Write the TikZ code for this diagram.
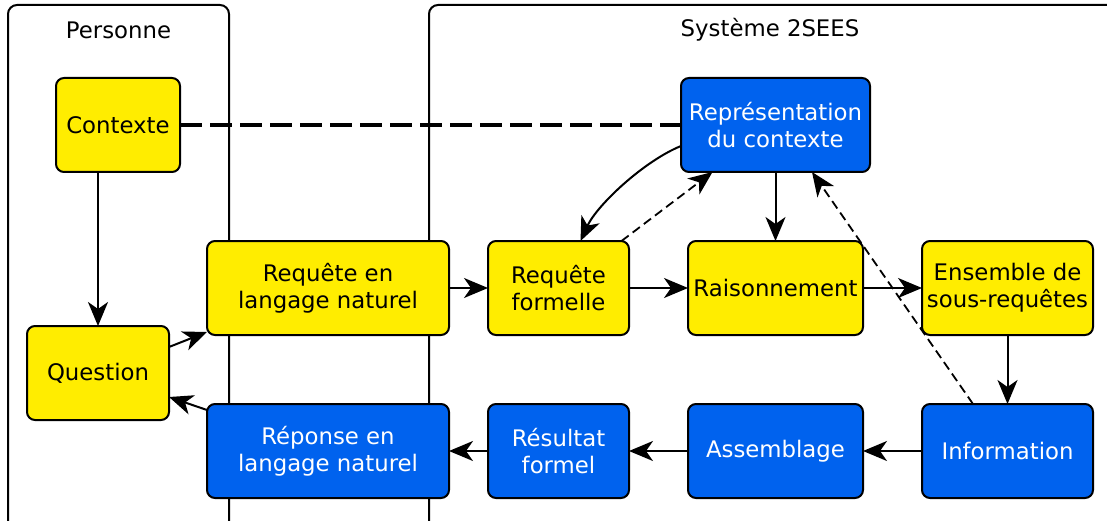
\documentclass[tikz,border=0pt]{standalone}
\usepackage{fontspec}
\setmainfont{DejaVu Sans}
\usetikzlibrary{arrows.meta}
\definecolor{boxyellow}{RGB}{255,237,0}
\definecolor{boxblue}{RGB}{0,98,238}
\tikzset{
  basebox/.style={draw=black, line width=2pt, rounded corners=8pt, inner sep=0pt, outer sep=0pt,
    align=center, font=\fontsize{22.8}{27}\selectfont, minimum height=94pt},
  ybox/.style={basebox, fill=boxyellow, text=black},
  bbox/.style={basebox, fill=boxblue, text=white},
  container/.style={draw=black, line width=2pt, rounded corners=9pt},
  arr/.style={line width=2pt, -{Stealth[length=24pt,width=20pt,inset=7pt]}},
  darr/.style={line width=1.8pt, dash pattern=on 9pt off 5pt, -{Stealth[length=24pt,width=20pt,inset=7pt]}},
  thickdash/.style={line width=4pt, dash pattern=on 22pt off 8pt},
  title/.style={font=\fontsize{22.8}{27}\selectfont, text=black}
}
\begin{document}
\begin{tikzpicture}[x=1pt,y=-1pt]
\useasboundingbox (0,0) rectangle (1107,521);
\clip (0,0) rectangle (1107,521);
\fill[white] (0,0) rectangle (1107,521);
% containers
\draw[container] (8,5) rectangle (229,530);
\draw[container] (429,5) rectangle (1120,530);
\node[title] (tpers) at (118.5,30) {Personne};
\node[title] (tsys) at (770,30) {Système 2SEES};
% nodes
\node[ybox, minimum width=124pt] (contexte) at (118,125) {Contexte};
\node[ybox, minimum width=142pt] (question) at (98,373) {Question};
\node[ybox, minimum width=242pt] (reqnl) at (328,288) {Requête en\\langage naturel};
\node[ybox, minimum width=141pt] (reqf) at (558.5,288) {Requête\\formelle};
\node[ybox, minimum width=175pt] (rais) at (775.5,288) {Raisonnement};
\node[ybox, minimum width=171pt] (ens) at (1007.5,288) {Ensemble de\\sous-requêtes};
\node[bbox, minimum width=189pt] (repr) at (775.5,125) {Représentation\\du contexte};
\node[bbox, minimum width=171pt] (info) at (1007.5,451) {Information};
\node[bbox, minimum width=175pt] (assem) at (775.5,451) {Assemblage};
\node[bbox, minimum width=141pt] (res) at (558.5,451) {Résultat\\formel};
\node[bbox, minimum width=242pt] (repnl) at (328,451) {Réponse en\\langage naturel};
% connectors
\draw[thickdash] (contexte.east) -- (repr.west);
\draw[arr] (question.north |- contexte.south) -- (question.north);
\draw[arr] ([yshift=26pt]question.east) -- ([yshift=3pt]reqnl.south west);
\draw[arr] ([yshift=-6pt]repnl.north west) -- ([yshift=-24pt]question.east);
\draw[arr] (reqnl) -- (reqf);
\draw[arr] (reqf) -- (rais);
\draw[arr] (rais) -- (ens);
\draw[arr] (repr) -- (rais);
\draw[arr] (ens) -- (info);
\draw[arr] (info) -- (assem);
\draw[arr] (assem) -- (res);
\draw[arr] (res) -- (repnl);
\draw[darr] ([xshift=63pt]reqf.north) -- ([xshift=-63pt]repr.south);
\draw[darr] ([xshift=-34.5pt]info.north) -- ([xshift=36.5pt]repr.south);
\draw[arr] ([yshift=-21pt]repr.west) .. controls (644,161) and (597,205) .. ([xshift=22pt]reqf.north);
\end{tikzpicture}
\end{document}
